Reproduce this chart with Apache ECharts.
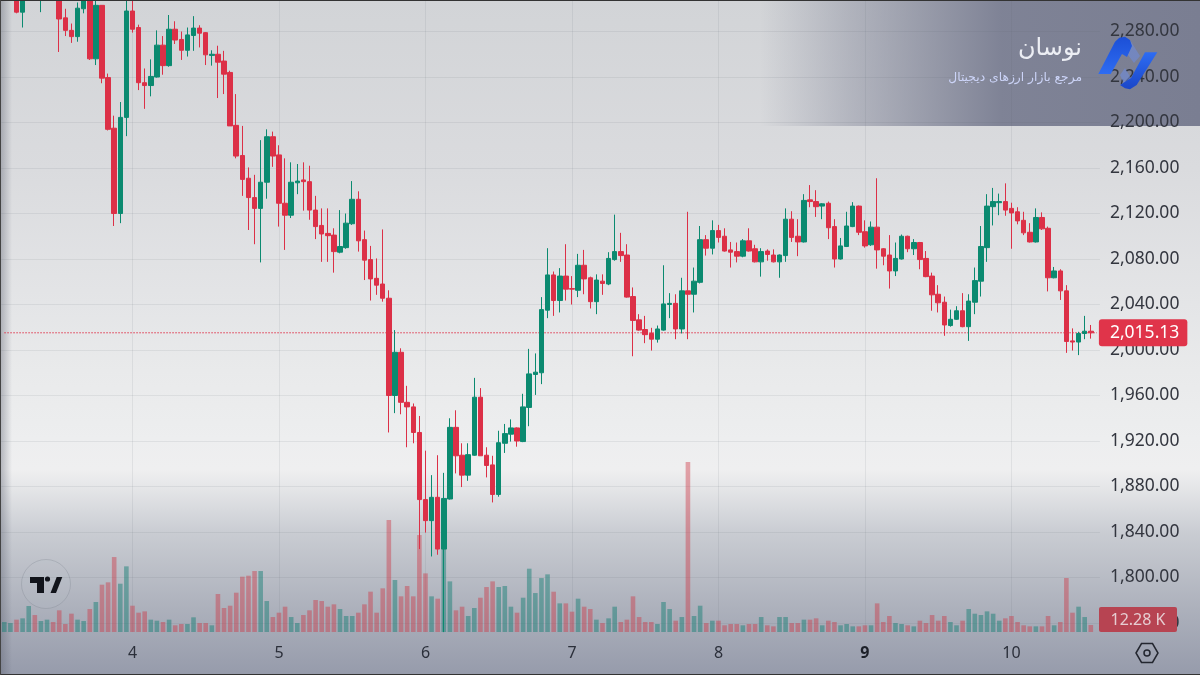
<!DOCTYPE html>
<html>
<head>
<meta charset="utf-8">
<style>html,body{margin:0;padding:0;background:#ddd}#c{width:1200px;height:675px}</style>
<script src="https://cdn.jsdelivr.net/npm/echarts@6/dist/echarts.min.js"></script>
</head>
<body>
<div id="c"></div>
<script>
// open, close, low, high per hour
const ohlc = [
[2312,2318,2310,2322],[2314,2320,2310,2324],[2314,2297,2296,2320],[2297,2316,2283.5,2322],[2316,2322,2310,2330],
[2322,2316,2310,2328],[2312,2320,2297,2326],[2320,2326,2312,2330],[2326,2320,2312,2330],[2320,2291,2262,2326],
[2292,2281,2276,2300],[2281,2275.5,2270,2287],[2275.5,2300.5,2271,2305.5],[2300,2307,2296,2310],[2316,2256,2255,2320],
[2256,2303,2250.5,2312],[2303,2239,2234.5,2303],[2239.5,2194,2193,2243],[2195,2120,2109,2206],[2120,2204.5,2111.5,2218],
[2204.5,2298,2188,2312],[2298,2282,2279,2312],[2283.5,2235,2228.5,2286],[2235,2232.5,2212,2247.5],[2232.5,2240.5,2223,2255.5],
[2240,2268,2239.5,2281],[2268,2250,2242,2276],[2250,2282,2249,2294.5],[2282,2272.5,2269,2289],[2273,2263.5,2255,2280],
[2263.5,2277,2258,2283.5],[2276.5,2283,2263,2293.5],[2283,2278.5,2266,2285.5],[2279,2259.5,2250.5,2279.5],[2259,2260,2250,2263.5],
[2260,2253,2221.5,2267.5],[2254,2242.5,2225,2263],[2244,2197,2197,2245.5],[2197.5,2170.5,2168.5,2225],[2171,2150,2135.5,2197],
[2151,2134,2105.5,2160.5],[2134,2124.5,2093,2154],[2124.5,2147.5,2077,2184.5],[2147.5,2187.5,2133,2194],[2187.5,2170.5,2161,2192],
[2171.5,2129,2108.5,2180],[2129,2118.5,2088,2168.5],[2118.5,2147.5,2116,2165],[2147,2148.5,2137,2163.5],[2149.5,2148,2122.5,2165],
[2148,2123,2114.5,2162],[2123,2108.5,2097.5,2135.5],[2109.5,2102,2077.5,2124.5],[2102.5,2100.5,2077.5,2124.5],[2101,2086.5,2068,2107],
[2086,2091,2085,2123],[2090,2111.5,2089,2120],[2111,2132.5,2110,2148.5],[2132.5,2096,2086.5,2139.5],[2097,2079,2061.5,2105],
[2079.5,2062.5,2043.5,2091.5],[2063,2057,2048.5,2080.5],[2058,2045.5,2042.5,2106],[2045.5,1960,1927.5,2052.5],[1960,1998,1944.5,2017.5],
[1998,1954,1943.5,2001.5],[1954,1950,1914.5,1968.5],[1950,1927.5,1918,1953],[1927.5,1868.5,1825,1942],[1868.5,1850,1839.5,1911.5],
[1850,1870.5,1818.5,1890],[1870.5,1825,1820,1907.5],[1825,1869.5,1752,1892],[1869,1932,1868.5,1940],[1932,1907,1891.5,1947],
[1907.5,1890,1879.5,1918],[1890,1908,1885,1918],[1907.5,1958.5,1907,1975.5],[1958.5,1907,1907,1966.5],[1907.5,1898.5,1888,1914.5],
[1899,1873,1866,1907],[1873,1918.5,1871,1929],[1918,1926.5,1909.5,1935],[1926,1931.5,1919.5,1939],[1931.5,1920,1915,1932],
[1919.5,1950,1919,1961.5],[1949.5,1979,1933,2001],[1978.5,1980.5,1960.5,1997],[1980,2035.5,1970,2046.5],[2035,2066,2028,2089.5],
[2066,2043.5,2030,2069],[2043.5,2065,2033,2072],[2065,2053.5,2043.5,2093],[2054,2053.5,2040,2065],[2052.5,2074.5,2046.5,2084.5],
[2074.5,2062.5,2049,2088],[2063.5,2042.5,2036.5,2064.5],[2042.5,2061.5,2031.5,2066.5],[2060.5,2058.5,2048.5,2066.5],[2058,2080.5,2057,2086],
[2079.5,2086.5,2078.5,2119],[2086.5,2083,2077.5,2103],[2083.5,2046.5,2046,2093],[2047,2026,1994.5,2055],[2026.5,2017.5,2017,2031.5],
[2018,2013.5,2006,2030],[2014.5,2009.5,1999.5,2019.5],[2009.5,2018.5,2006.5,2021.5],[2017.5,2040.5,2017,2074.5],[2040,2041,2028,2050],
[2041,2018.5,2009.5,2049],[2018.5,2052,2014.5,2063.5],[2052,2049,2009.5,2121.5],[2049,2060.5,2033,2072.5],[2059.5,2097,2058.5,2109],
[2097,2089.5,2083,2101],[2089.5,2105,2084,2114],[2105,2099,2094.5,2110],[2100,2087,2086.5,2107],[2088,2086,2072.5,2095],
[2086.5,2082.5,2077,2094.5],[2082.5,2096,2081.5,2097.5],[2096,2087,2086.5,2107],[2089,2077.5,2077,2092.5],[2077.5,2086.5,2064.5,2089.5],
[2087,2084,2078.5,2088.5],[2083.5,2077.5,2077,2088.5],[2077.5,2083.5,2063.5,2084],[2083,2115,2077.5,2124.5],[2115,2099,2095,2122],
[2100,2095,2082.5,2115],[2095,2131.5,2094.5,2137],[2132,2130.5,2125.5,2145],[2130.5,2126,2117,2140.5],[2126.5,2128.5,2115,2129],
[2129,2107.5,2097.5,2130.5],[2108.5,2080,2072.5,2115],[2080,2091.5,2079.5,2098.5],[2091,2109,2090.5,2121.5],[2108.5,2126.5,2108,2130],
[2126.5,2103.5,2101,2127],[2104,2091.5,2090,2114],[2092.5,2108,2091.5,2113],[2108,2088,2071.5,2151],[2089,2082.5,2074.5,2089.5],
[2083.5,2069.5,2054,2101],[2069.5,2080.5,2065,2094.5],[2080,2100,2079.5,2101.5],[2100,2089,2086,2100.5],[2089,2094.5,2083.5,2097.5],
[2094.5,2079.5,2071,2095],[2080.5,2064.5,2064,2087],[2065,2048.5,2034.5,2068],[2049,2041.5,2033,2057],[2042,2022,2012.5,2047],
[2021.5,2027,2020.5,2035.5],[2027,2034.5,2026.5,2038.5],[2034.5,2020.5,2020,2050],[2020.5,2043,2008,2049],[2042,2061,2031.5,2072.5],
[2060.5,2091,2047,2109],[2090,2126.5,2077.5,2137],[2126,2130.5,2109.5,2142.5],[2129.5,2130.5,2118.5,2137.5],[2130.5,2123,2118,2146.5],
[2124.5,2120.5,2089,2129.5],[2121.5,2113.5,2110.5,2125.5],[2114,2103,2101,2121.5],[2103.5,2095,2094.5,2111.5],[2095,2116.5,2094.5,2124.5],
[2116.5,2106.5,2105.5,2121],[2107,2063.5,2051.5,2108.5],[2063.5,2069.5,2063,2073],[2069.5,2052,2044,2071],[2052,2007.5,1997.5,2057],
[2008,2007,1999.5,2019],[2007,2014.5,1995.5,2016],[2014.5,2016.5,2009.5,2030],[2016.5,2015.13,2010,2022]
];
// volume, thousands
const volumes = [
17.5,15.7,21.6,23.9,45.5,29.7,19.2,21.6,17.5,37.9,14,32.1,21.6,19.2,40.2,52.5,82.8,86.9,131.2,84.5,
114.9,46,33.8,36.1,21.6,19.8,17.5,21.6,11.7,14,14,25.7,15.7,15.7,11.7,66.5,42,46,68.8,96.8,
98.5,106.7,106.7,54.2,26.2,33.8,44.3,26.2,15.7,29.7,37.9,56,54.2,44.3,48.4,40.2,28,28,33.8,48.4,
70.6,33.8,76.4,196,91,62.4,80.5,62.4,169.7,102.6,62.4,58.3,150,88.6,37.9,44.3,28,42,60,78.7,
88.6,78.7,80.5,44.3,33.8,60,110.8,68.2,94.4,100.9,70.5,50.1,50.1,35.6,58.3,44.3,40.2,21.6,15.7,23.9,
44.3,17.5,21.6,62.4,26.2,17.5,17.5,14,52.5,40.2,19.8,26.2,297.5,28,46,15.7,19.8,19.8,11.7,14,
14,11.7,14,14,26.2,11.7,9.9,26.2,26.2,15.7,15.7,21.6,21.6,23.9,11.7,19.8,17.5,11.7,14,9.9,
9.9,11.7,11.7,50.1,17.5,28,15.7,14,11.7,9.9,19.8,15.7,29.7,19.8,28,17.5,11.7,19.8,40.2,32,
29.7,36.1,32,19.8,23.9,28,17.5,11.7,9.9,9.9,9.9,28,11.7,17.5,94.5,33.8,44.3,26.2,12.28
];
const dayIndex = [21,45,69,93,117,141,165];
const dayLabels = ['4','5','6','7','8','9','10'];
const boldDay = '9';
const lastPrice = 2015.13;
const volumeTag = '12.28 K';
const brandTitle = 'نوسان';
const brandSubtitle = 'مرجع بازار ارزهای دیجیتال';
const slotCount = 180;

const UP = '#0b8a70', DOWN = '#dc3047';
const categories = Array.from({length: slotCount}, (_, i) => String(i));
const isDay = i => dayIndex.includes(i);
const fmt = v => v.toLocaleString('en-US', {minimumFractionDigits: 2, maximumFractionDigits: 2});
const UI = '"Noto Sans", sans-serif';
const GRID = 'rgba(90,95,110,0.10)';
const PRICE_LINE = '#e0344a';

const chart = echarts.init(document.getElementById('c'), null, {renderer: 'canvas', width: 1200, height: 675});
const lg = (x2, y2, stops) => new echarts.graphic.LinearGradient(0, 0, x2, y2, stops.map(s => ({offset: s[0], color: s[1]})));

chart.setOption({
  animation: false,
  backgroundColor: lg(0, 1, [
    [0, '#d2d4d7'], [0.25, '#dadbde'], [0.45, '#e4e5e7'], [0.55, '#e9eaeb'], [0.65, '#edeeef'],
    [0.695, '#efeff0'], [0.72, '#e6e7e9'], [0.79, '#c9ccd2'], [0.9, '#adb1bc'], [1, '#969bab']
  ]),
  grid: [
    {left: 1.25, top: -14, width: 1098.7, height: 637, outerBoundsMode: 'none', containLabel: false},
    {left: 1.25, top: 0, width: 1098.7, height: 632, outerBoundsMode: 'none', containLabel: false}
  ],
  xAxis: [
    {type: 'category', gridIndex: 0, data: categories, show: false},
    {type: 'category', gridIndex: 1, data: categories,
     axisLine: {show: false}, axisTick: {show: false},
     axisLabel: {
       interval: (i) => isDay(i), margin: 13, fontFamily: UI, fontSize: 16, color: '#2b2f3a',
       formatter: (v, i) => {
         const t = dayLabels[dayIndex.indexOf(+v)];
         return t === boldDay ? '{b|' + t + '}' : t;
       },
       rich: {b: {fontFamily: UI, fontSize: 16, fontWeight: 'bold', color: '#1d2029'}}
     },
     splitLine: {show: true, alignWithLabel: true, interval: (i) => isDay(i), lineStyle: {color: GRID, width: 1}}
    }
  ],
  yAxis: [
    {type: 'value', gridIndex: 0, position: 'right', min: 1760, max: 2320, interval: 40,
     axisLine: {show: false}, axisTick: {show: false},
     axisLabel: {margin: 10, fontFamily: UI, fontSize: 17.5, color: '#33363f', formatter: fmt},
     splitLine: {show: true, lineStyle: {color: GRID, width: 1}}
    },
    {type: 'value', gridIndex: 1, min: 0, max: 1106, show: false, splitLine: {show: false}}
  ],
  series: [
    {type: 'bar', name: 'Volume', xAxisIndex: 1, yAxisIndex: 1, barWidth: 4.6, z: 1,
     data: volumes.map((v, i) => ({
       value: v,
       itemStyle: {color: ohlc[i][1] >= ohlc[i][0] ? 'rgba(20,125,115,0.47)' : 'rgba(205,50,65,0.42)'}
     }))
    },
    {type: 'line', name: 'Last price', xAxisIndex: 0, yAxisIndex: 0, z: 2, symbol: 'none', silent: true,
     color: PRICE_LINE,
     lineStyle: {color: PRICE_LINE, type: [1.5, 1.5], width: 1},
     data: categories.map(() => lastPrice),
     endLabel: {show: true, distance: 2, formatter: () => fmt(lastPrice), fontFamily: UI, fontSize: 17.5,
                color: '#ffffff', backgroundColor: PRICE_LINE, padding: [5, 8, 4, 11], borderRadius: 3}
    },
    {type: 'candlestick', name: 'Price', xAxisIndex: 0, yAxisIndex: 0, barWidth: 5, clip: false, z: 3,
     itemStyle: {color: UP, color0: DOWN, borderColor: UP, borderColor0: DOWN, borderWidth: 1},
     data: ohlc
    }
  ],
  graphic: {elements: [
    {type: 'rect', silent: true, z: -1, shape: {x: 760, y: 0, width: 440, height: 126},
     style: {fill: lg(1, 0, [[0, 'rgba(122,126,146,0)'], [0.2, 'rgba(122,126,146,0.38)'], [0.55, 'rgba(122,126,146,0.95)'], [1, 'rgba(122,126,146,1)']])}},
    {type: 'rect', silent: true, z: -1, shape: {x: 0, y: 0, width: 12, height: 675},
     style: {fill: lg(1, 0, [[0, 'rgba(90,95,110,0.42)'], [1, 'rgba(90,95,110,0)']])}},
    {type: 'rect', silent: true, z: 50, shape: {x: 0, y: 0, width: 1200, height: 1}, style: {fill: '#333'}},
    {type: 'rect', silent: true, z: 50, shape: {x: 0, y: 674, width: 1200, height: 1}, style: {fill: '#333'}},
    {type: 'rect', silent: true, z: 50, shape: {x: 0, y: 0, width: 1, height: 675}, style: {fill: '#444'}},
    // brand
    {type: 'text', z: 60, silent: true, style: {x: 1082, y: 49, text: brandTitle, align: 'right', verticalAlign: 'middle',
      font: '500 24px "DejaVu Sans"', fill: '#eceef4'}},
    {type: 'text', z: 60, silent: true, style: {x: 1082, y: 78, text: brandSubtitle, align: 'right', verticalAlign: 'middle',
      font: '12.3px "DejaVu Sans"', fill: '#ccd4f8'}},
    {type: 'polygon', z: 59, silent: true, shape: {points: [[1130,40],[1140,56],[1134,63],[1125,51]]}, style: {fill: 'rgba(110,140,225,0.55)'}},
    {type: 'polygon', z: 59, silent: true, shape: {points: [[1120,75],[1125,68],[1132,80],[1126,88]]}, style: {fill: 'rgba(110,140,225,0.55)'}},
    {type: 'polygon', z: 60, silent: true, shape: {points: [[1098.3,74],[1115,41.7],[1119.3,37.7],[1125,36.7],[1130,40],[1132,46],[1127,57],[1122,54],[1110.7,74]]},
      style: {fill: lg(0, 1, [[0, '#1c4fd6'], [1, '#2e6cf2']])}},
    {type: 'polygon', z: 60, silent: true, shape: {points: [[1145,52.3],[1157.3,52.3],[1136.7,85],[1130,89.3],[1125,88.3],[1120,85],[1131,78]]},
      style: {fill: lg(0, 1, [[0, '#2e6cf2'], [1, '#1a46c8']])}},
    // TradingView badge
    {type: 'circle', z: 40, silent: true, shape: {cx: 46, cy: 584, r: 24.5}, style: {fill: 'rgba(190,195,205,0.12)', stroke: 'rgba(120,125,135,0.28)', lineWidth: 1}},
    {type: 'polygon', z: 41, silent: true, shape: {points: [[30,577],[44,577],[44,593],[37,593],[37,583],[30,583]]}, style: {fill: '#12141b'}},
    {type: 'circle', z: 41, silent: true, shape: {cx: 47.5, cy: 579, r: 2.6}, style: {fill: '#12141b'}},
    {type: 'polygon', z: 41, silent: true, shape: {points: [[50.5,593],[56.7,577],[62.3,577],[56,593]]}, style: {fill: '#12141b'}},
    // volume tag
    {type: 'rect', z: 42, silent: true, shape: {x: 1099, y: 607, width: 78, height: 25, r: 2}, style: {fill: '#b74452'}},
    {type: 'text', z: 43, silent: true, style: {x: 1138, y: 620, text: volumeTag, align: 'center', verticalAlign: 'middle',
      font: '16px "Noto Sans"', fill: '#e6cdd1'}},
    // settings icon
    {type: 'polygon', z: 42, silent: true, shape: {points: [[1136,653],[1141.5,643.5],[1152.5,643.5],[1158,653],[1152.5,662.5],[1141.5,662.5]]},
      style: {fill: 'none', stroke: '#23262f', lineWidth: 1.5}},
    {type: 'circle', z: 42, silent: true, shape: {cx: 1147, cy: 653, r: 3}, style: {fill: 'none', stroke: '#23262f', lineWidth: 1.5}}
  ]}
});
</script>
</body>
</html>
